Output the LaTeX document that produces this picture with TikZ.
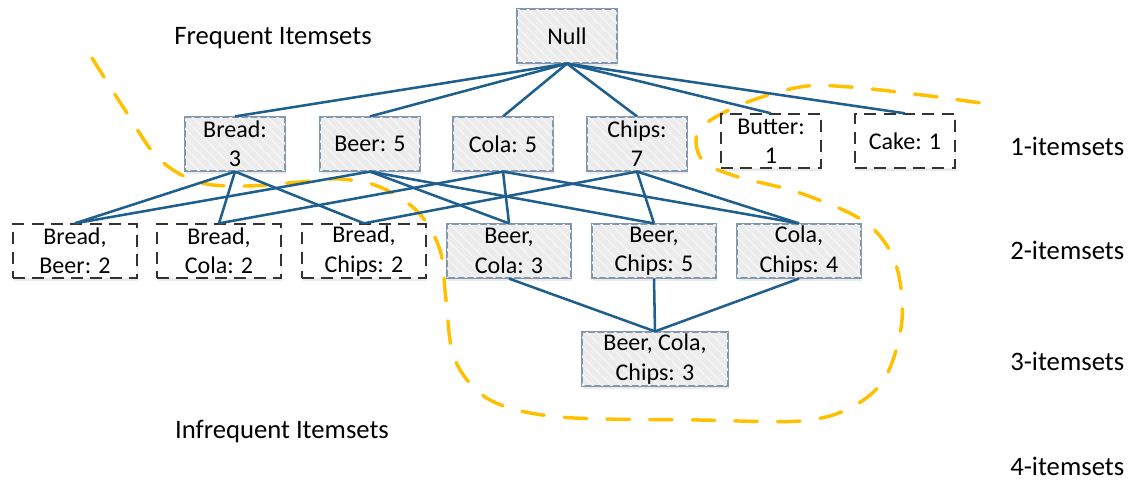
\documentclass[tikz,border=0pt]{standalone}
\usepackage{fontspec}
\setmainfont{Carlito}
\usetikzlibrary{shadows,patterns.meta}
\definecolor{linkblue}{RGB}{31,95,142}
\definecolor{gold}{RGB}{255,192,0}
\definecolor{boxedge}{RGB}{132,151,172}
\definecolor{boxfill}{RGB}{236,236,236}
\definecolor{boxstripe}{RGB}{244,244,244}
\begin{document}
\begin{tikzpicture}[x=0.75pt,y=-0.75pt,
  base/.style={align=center, inner sep=0pt, minimum height=40pt,
    font=\fontsize{18}{22}\selectfont,
    drop shadow={shadow xshift=1pt, shadow yshift=-2.5pt, opacity=0.16}},
  itembox/.style={base, draw=boxedge, line width=1.4pt, fill=boxfill,
    postaction={pattern={Lines[angle=135,distance=5pt,line width=1.2pt]},
      pattern color=boxstripe}},
  rarebox/.style={base, draw=black!80, fill=white, line width=1.5pt,
    dash pattern=on 9pt off 5.5pt},
  wide1/.style={minimum width=75pt},
  wide2/.style={minimum width=93pt},
  wide3/.style={minimum width=109.5pt},
  link/.style={draw=linkblue, line width=1.9pt},
  caption/.style={font=\fontsize{20}{24}\selectfont, inner sep=0pt},
  border/.style={draw=gold, line width=2.6pt, line cap=round,
    dash pattern=on 17pt off 15pt}
]
\useasboundingbox (0,0) rectangle (1137,481);

% border between frequent and infrequent itemsets
\draw[border] plot[smooth, tension=0.55] coordinates {
  (92,58) (125,110) (158,158) (198,182) (245,186) (300,182) (340,179)
  (380,187) (418,212) (440,250) (446,300) (455,360) (490,400) (560,417)
  (700,420) (800,421) (850,408) (885,378) (902,320) (895,262) (865,222)
  (800,193) (735,176) (702,160) (699,130) (740,105) (800,87) (850,87)
  (930,96) (994,105)};

% lattice nodes
\node[itembox, wide1] (null) at (567,36) {Null};

\node[itembox, wide1] (bread)  at (235,144) {Bread:\\3};
\node[itembox, wide1] (beer)   at (370,144) {Beer: 5};
\node[itembox, wide1] (cola)   at (503,144) {Cola: 5};
\node[itembox, wide1] (chips)  at (637,144) {Chips:\\7};
\node[rarebox, wide1] (butter) at (771,141) {Butter:\\1};
\node[rarebox, wide1] (cake)   at (905,141) {Cake: 1};

\node[rarebox, wide2] (breadbeer)  at (75,251)  {Bread,\\Beer: 2};
\node[rarebox, wide2] (breadcola)  at (219,251) {Bread,\\Cola: 2};
\node[rarebox, wide2] (breadchips) at (364,251) {Bread,\\Chips: 2};
\node[itembox, wide2] (beercola)   at (509,251) {Beer,\\Cola: 3};
\node[itembox, wide2] (beerchips)  at (654,251) {Beer,\\Chips: 5};
\node[itembox, wide2] (colachips)  at (799,251) {Cola,\\Chips: 4};

\node[itembox, wide3] (triple) at (655,359) {Beer, Cola,\\Chips: 3};

% lattice links
\foreach \c in {bread,beer,cola,chips,butter,cake}
  \draw[link] (null.south) -- (\c.north);
\foreach \p/\c in {bread/breadbeer, bread/breadcola, bread/breadchips,
                   beer/breadbeer, beer/beercola, beer/beerchips,
                   cola/breadcola, cola/beercola, cola/colachips,
                   chips/breadchips, chips/beerchips, chips/colachips,
                   beercola/triple, beerchips/triple, colachips/triple}
  \draw[link] (\p.south) -- (\c.north);

% captions
\node[caption] (freq)   at (273,38)  {Frequent Itemsets};
\node[caption] (infreq) at (282,432) {Infrequent Itemsets};
\node[caption, anchor=west] (lv1) at (1010,146) {1-itemsets};
\node[caption, anchor=west] (lv2) at (1010,250) {2-itemsets};
\node[caption, anchor=west] (lv3) at (1010,361) {3-itemsets};
\node[caption, anchor=west] (lv4) at (1010,466) {4-itemsets};
\end{tikzpicture}
\end{document}
